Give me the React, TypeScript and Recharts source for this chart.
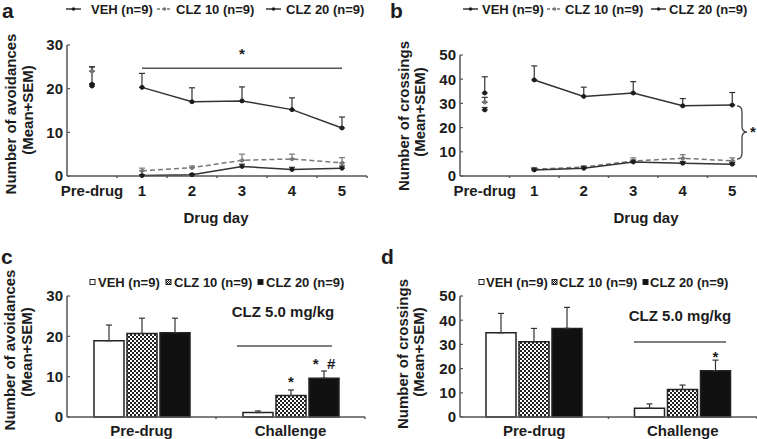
import React from 'react'
import {
  ComposedChart,
  BarChart,
  Bar,
  Line,
  XAxis,
  YAxis,
  ErrorBar,
  ReferenceLine,
  LabelList,
} from 'recharts'

const FONT = '"Liberation Sans", Arial, sans-serif'
const INK = '#1c1c1c'
const AXIS = '#555'

// panels a/b: first value of each list is the pre-drug point
const days = ['Pre-drug', '1', '2', '3', '4', '5']

const avoidVeh = [21.0, 20.3, 17.0, 17.2, 15.2, 11.0]
const avoidVehSem = [4.0, 3.2, 3.2, 3.2, 2.7, 2.5]
const avoidClz10 = [24.0, 1.2, 1.9, 3.6, 3.9, 3.0]
const avoidClz10Sem = [1.0, 0.6, 0.4, 1.4, 1.1, 1.2]
const avoidClz20 = [20.6, 0.1, 0.3, 2.2, 1.5, 1.8]
const avoidClz20Sem = [0.5, 0.2, 0.2, 0.5, 0.5, 0.5]

const crossVeh = [34.3, 39.7, 32.9, 34.3, 29.0, 29.3]
const crossVehSem = [6.7, 5.8, 3.8, 4.7, 3.0, 5.2]
const crossClz10 = [30.5, 2.8, 3.7, 6.2, 7.3, 6.3]
const crossClz10Sem = [2.0, 0.7, 0.5, 1.3, 1.5, 1.2]
const crossClz20 = [27.3, 2.5, 3.2, 5.8, 5.3, 4.9]
const crossClz20Sem = [1.0, 0.6, 0.6, 0.8, 0.7, 0.7]

// panels c/d
const groups = ['Pre-drug', 'Challenge']

const avoidBarVeh = [18.9, 1.1]
const avoidBarVehSem = [3.9, 0.4]
const avoidBarClz10 = [20.7, 5.3]
const avoidBarClz10Sem = [3.8, 1.4]
const avoidBarClz20 = [20.9, 9.6]
const avoidBarClz20Sem = [3.6, 1.8]
const avoidMarks10 = ['', '*']
const avoidMarks20 = ['', '*\u00a0\u00a0#']

const crossBarVeh = [34.8, 3.6]
const crossBarVehSem = [8.0, 1.8]
const crossBarClz10 = [31.1, 11.4]
const crossBarClz10Sem = [5.5, 1.8]
const crossBarClz20 = [36.6, 19.1]
const crossBarClz20Sem = [8.7, 4.4]
const crossMarks10 = ['', '']
const crossMarks20 = ['', '*']

const lineRows = (
  veh: number[], vehSem: number[],
  c10: number[], c10Sem: number[],
  c20: number[], c20Sem: number[],
) =>
  days.map((day, i) =>
    i === 0
      ? {
          day,
          pVeh: veh[0], pVehE: [0, vehSem[0]],
          p10: c10[0], p10E: [0, c10Sem[0]],
          p20: c20[0], p20E: [0, c20Sem[0]],
        }
      : {
          day,
          veh: veh[i], vehE: [0, vehSem[i]],
          c10: c10[i], c10E: [0, c10Sem[i]],
          c20: c20[i], c20E: [0, c20Sem[i]],
        },
  )

const barRows = (
  veh: number[], vehSem: number[],
  c10: number[], c10Sem: number[],
  c20: number[], c20Sem: number[],
  m10: string[], m20: string[],
) =>
  groups.map((group, i) => ({
    group,
    veh: veh[i], vehE: [0, vehSem[i]],
    c10: c10[i], c10E: [0, c10Sem[i]],
    c20: c20[i], c20E: [0, c20Sem[i]],
    m10: m10[i], m20: m20[i],
  }))

const avoidLines = lineRows(avoidVeh, avoidVehSem, avoidClz10, avoidClz10Sem, avoidClz20, avoidClz20Sem)
const crossLines = lineRows(crossVeh, crossVehSem, crossClz10, crossClz10Sem, crossClz20, crossClz20Sem)
const avoidBars = barRows(avoidBarVeh, avoidBarVehSem, avoidBarClz10, avoidBarClz10Sem, avoidBarClz20, avoidBarClz20Sem, avoidMarks10, avoidMarks20)
const crossBars = barRows(crossBarVeh, crossBarVehSem, crossBarClz10, crossBarClz10Sem, crossBarClz20, crossBarClz20Sem, crossMarks10, crossMarks20)

const txt = { fontFamily: FONT, fontWeight: 'bold' as const, fill: INK }

const YTick = (props: any) => {
  const { x, y, payload } = props
  return (
    <g>
      <line x1={x + 4} x2={x + 7} y1={y} y2={y} stroke={AXIS} strokeWidth={1.2} />
      <text x={x} y={y} dy="0.36em" textAnchor="end" fontSize={15} {...txt}>
        {payload.value}
      </text>
    </g>
  )
}

const makeXTick = (half: number, gap: number) => (props: any) => {
  const { x, y, payload } = props
  return (
    <g>
      <line x1={x + half} x2={x + half} y1={y} y2={y + 2} stroke={AXIS} strokeWidth={1.5} />
      <text x={x} y={y + gap} dy="0.71em" textAnchor="middle" fontSize={15} {...txt}>
        {payload.value}
      </text>
    </g>
  )
}

const markLabel = (props: any) => {
  const { x, y, width, value } = props
  if (!value) return null
  return (
    <text x={x + width / 2} y={y - 9} textAnchor="middle" fontSize={15} {...txt}>
      {value}
    </text>
  )
}

const errProps = { stroke: '#333', strokeWidth: 1.2, width: 3, isAnimationActive: false }
const dotSolid = { r: 2, fill: INK, stroke: INK, strokeWidth: 1 }
const dotGray = { r: 1.8, fill: '#777', stroke: '#777', strokeWidth: 1 }

function LinePanel({ data, max, ticks, left, half, sig }: any) {
  return (
    <ComposedChart
      width={left === 27 ? 378 : 379}
      height={220}
      data={data}
      margin={{ top: max === 30 ? 45 : 55, right: left === 27 ? 11 : 0, left, bottom: 0 }}
    >
      <XAxis
        dataKey="day"
        height={44}
        padding={{ left: half, right: half }}
        axisLine={{ stroke: AXIS, strokeWidth: 1.5 }}
        tickLine={false}
        tickSize={0}
        tickMargin={0}
        interval={0}
        tick={makeXTick(half, 9)}
      />
      <YAxis
        domain={[0, max]}
        ticks={ticks}
        width={40}
        axisLine={{ stroke: AXIS, strokeWidth: 1.5 }}
        tickLine={false}
        tickSize={3}
        tickMargin={1}
        tick={YTick}
      />
      {sig && (
        <ReferenceLine
          segment={[{ x: '1', y: 24.7 }, { x: '5', y: 24.7 }]}
          stroke={AXIS}
          strokeWidth={1.5}
          label={{ value: '*', position: 'top', offset: 9, fontSize: 15, fontWeight: 'bold', fill: INK, fontFamily: FONT }}
        />
      )}
      <Line dataKey="c10" stroke="#777" strokeWidth={1.5} strokeDasharray="5 3" dot={dotGray} isAnimationActive={false}>
        <ErrorBar dataKey="c10E" direction="y" {...errProps} stroke="#777" />
      </Line>
      <Line dataKey="c20" stroke="#333" strokeWidth={1.5} dot={dotSolid} isAnimationActive={false}>
        <ErrorBar dataKey="c20E" direction="y" {...errProps} />
      </Line>
      <Line dataKey="veh" stroke="#333" strokeWidth={1.5} dot={dotSolid} isAnimationActive={false}>
        <ErrorBar dataKey="vehE" direction="y" {...errProps} />
      </Line>
      <Line dataKey="p10" stroke="#777" dot={dotGray} isAnimationActive={false}>
        <ErrorBar dataKey="p10E" direction="y" {...errProps} />
      </Line>
      <Line dataKey="p20" stroke="#333" dot={dotSolid} isAnimationActive={false}>
        <ErrorBar dataKey="p20E" direction="y" {...errProps} />
      </Line>
      <Line dataKey="pVeh" stroke="#333" dot={dotSolid} isAnimationActive={false}>
        <ErrorBar dataKey="pVehE" direction="y" {...errProps} />
      </Line>
    </ComposedChart>
  )
}

function BarPanel({ data, max, ticks, left, half, patternId }: any) {
  return (
    <BarChart
      width={left === 27 ? 378 : 379}
      height={219}
      data={data}
      barSize={30}
      barGap={3}
      margin={{ top: 76, right: left === 27 ? 13 : 0, left, bottom: 0 }}
    >
      <defs>
        <pattern id={patternId} width={4} height={4} patternUnits="userSpaceOnUse">
          <rect width={4} height={4} fill="#fff" />
          <rect width={2} height={2} fill="#222" />
          <rect x={2} y={2} width={2} height={2} fill="#222" />
        </pattern>
      </defs>
      <XAxis
        dataKey="group"
        height={22}
        axisLine={{ stroke: AXIS, strokeWidth: 1.5 }}
        tickLine={false}
        tickSize={0}
        tickMargin={0}
        interval={0}
        tick={makeXTick(half, 8)}
      />
      <YAxis
        domain={[0, max]}
        ticks={ticks}
        width={40}
        axisLine={{ stroke: AXIS, strokeWidth: 1.5 }}
        tickLine={false}
        tickSize={3}
        tickMargin={1}
        tick={YTick}
      />
      <Bar dataKey="veh" fill="#fff" stroke="#222" strokeWidth={1.5} isAnimationActive={false}>
        <ErrorBar dataKey="vehE" direction="y" {...errProps} />
      </Bar>
      <Bar dataKey="c10" fill={`url(#${patternId})`} stroke="#222" strokeWidth={1.5} isAnimationActive={false}>
        <ErrorBar dataKey="c10E" direction="y" {...errProps} />
        <LabelList dataKey="m10" content={markLabel} />
      </Bar>
      <Bar dataKey="c20" fill="#111" stroke="#222" strokeWidth={1.5} isAnimationActive={false}>
        <ErrorBar dataKey="c20E" direction="y" {...errProps} />
        <LabelList dataKey="m20" content={markLabel} />
      </Bar>
    </BarChart>
  )
}

const lineLegend = (cy: number, items: { icon: number; text: number; label: string; dashed?: boolean }[]) =>
  items.map((it, i) => (
    <g key={i}>
      <line
        x1={it.icon} x2={it.icon + 15} y1={cy} y2={cy}
        stroke={it.dashed ? '#777' : '#333'} strokeWidth={1.5}
        strokeDasharray={it.dashed ? '3 2' : undefined}
      />
      <circle cx={it.icon + 7.5} cy={cy} r={1.8} fill={it.dashed ? '#777' : INK} />
      <text x={it.text} y={cy + 4.6} fontSize={13} {...txt}>{it.label}</text>
    </g>
  ))

const barLegend = (cy: number, pid: string, items: { sq: number; text: number; label: string }[]) =>
  items.map((it, i) => (
    <g key={i}>
      <rect
        x={it.sq} y={cy - 2.5} width={5} height={5}
        fill={i === 0 ? '#fff' : i === 1 ? `url(#${pid})` : '#111'}
        stroke="#222" strokeWidth={1}
      />
      <text x={it.text} y={cy + 4.6} fontSize={13} {...txt}>{it.label}</text>
    </g>
  ))

const yTitle = (x1: number, y1: number, x2: number, y2: number, label: string) => (
  <g>
    <text
      x={x1} y={y1} transform={`rotate(-90 ${x1} ${y1})`}
      textAnchor="middle" dominantBaseline="central" fontSize={15} {...txt}
    >
      {label}
    </text>
    <text
      x={x2} y={y2} transform={`rotate(-90 ${x2} ${y2})`}
      textAnchor="middle" dominantBaseline="central" fontSize={15} {...txt}
    >
      (Mean+SEM)
    </text>
  </g>
)

export default function App() {
  return (
    <div style={{ position: 'absolute', left: 0, top: 0, width: 757, height: 439, background: '#fff', overflow: 'hidden' }}>
      <div style={{ position: 'absolute', left: 0, top: 0 }}>
        <LinePanel data={avoidLines} max={30} ticks={[0, 10, 20, 30]} left={27} half={25} sig />
      </div>
      <div style={{ position: 'absolute', left: 378, top: 0 }}>
        <LinePanel data={crossLines} max={50} ticks={[0, 10, 20, 30, 40, 50]} left={42} half={24.75} />
      </div>
      <div style={{ position: 'absolute', left: 0, top: 220 }}>
        <BarPanel data={avoidBars} max={30} ticks={[0, 10, 20, 30]} left={27} half={74.5} patternId="checkC" />
      </div>
      <div style={{ position: 'absolute', left: 378, top: 220 }}>
        <BarPanel data={crossBars} max={50} ticks={[0, 10, 20, 30, 40, 50]} left={42} half={74.25} patternId="checkD" />
      </div>

      <svg width={757} height={439} style={{ position: 'absolute', left: 0, top: 0, pointerEvents: 'none' }}>
        <defs>
          <pattern id="checkL" width={2} height={2} patternUnits="userSpaceOnUse">
            <rect width={2} height={2} fill="#fff" />
            <rect width={1} height={1} fill="#111" />
            <rect x={1} y={1} width={1} height={1} fill="#111" />
          </pattern>
        </defs>

        <text x={2} y={18} fontSize={21} {...txt}>a</text>
        <text x={390} y={18} fontSize={21} {...txt}>b</text>
        <text x={1} y={264} fontSize={21} {...txt}>c</text>
        <text x={381} y={264} fontSize={21} {...txt}>d</text>

        {lineLegend(9, [
          { icon: 66, text: 91, label: 'VEH (n=9)' },
          { icon: 157, text: 176, label: 'CLZ 10 (n=9)', dashed: true },
          { icon: 266, text: 286, label: 'CLZ 20 (n=9)' },
        ])}
        {lineLegend(9, [
          { icon: 463, text: 482, label: 'VEH (n=9)' },
          { icon: 547, text: 565, label: 'CLZ 10 (n=9)', dashed: true },
          { icon: 651, text: 669, label: 'CLZ 20 (n=9)' },
        ])}
        {barLegend(282, 'checkL', [
          { sq: 90, text: 98, label: 'VEH (n=9)' },
          { sq: 166, text: 174, label: 'CLZ 10 (n=9)' },
          { sq: 258, text: 266, label: 'CLZ 20 (n=9)' },
        ])}
        {barLegend(282, 'checkL', [
          { sq: 479, text: 486, label: 'VEH (n=9)' },
          { sq: 552, text: 559, label: 'CLZ 10 (n=9)' },
          { sq: 643, text: 650, label: 'CLZ 20 (n=9)' },
        ])}

        {yTitle(10, 114, 27, 110, 'Number of avoidances')}
        {yTitle(403, 116, 419, 112, 'Number of crossings')}
        {yTitle(9, 350, 26, 352, 'Number of avoidances')}
        {yTitle(402, 354, 418, 352, 'Number of crossings')}

        <text x={216} y={223} textAnchor="middle" fontSize={15} {...txt}>Drug day</text>
        <text x={646} y={223} textAnchor="middle" fontSize={15} {...txt}>Drug day</text>

        <path
          d="M 737 106 Q 742 106 742 112 L 742 126 Q 742 132 747 132 Q 742 132 742 138 L 742 153 Q 742 159 737 159"
          fill="none" stroke="#444" strokeWidth={1.3}
        />
        <text x={753} y={137} textAnchor="middle" fontSize={15} {...txt}>*</text>

        <text x={283} y={317} textAnchor="middle" fontSize={15} {...txt}>CLZ 5.0 mg/kg</text>
        <line x1={237} x2={332} y1={346} y2={346} stroke={AXIS} strokeWidth={1.5} />
        <text x={680} y={321} textAnchor="middle" fontSize={15} {...txt}>CLZ 5.0 mg/kg</text>
        <line x1={634} x2={726} y1={342} y2={342} stroke={AXIS} strokeWidth={1.5} />
      </svg>
    </div>
  )
}
